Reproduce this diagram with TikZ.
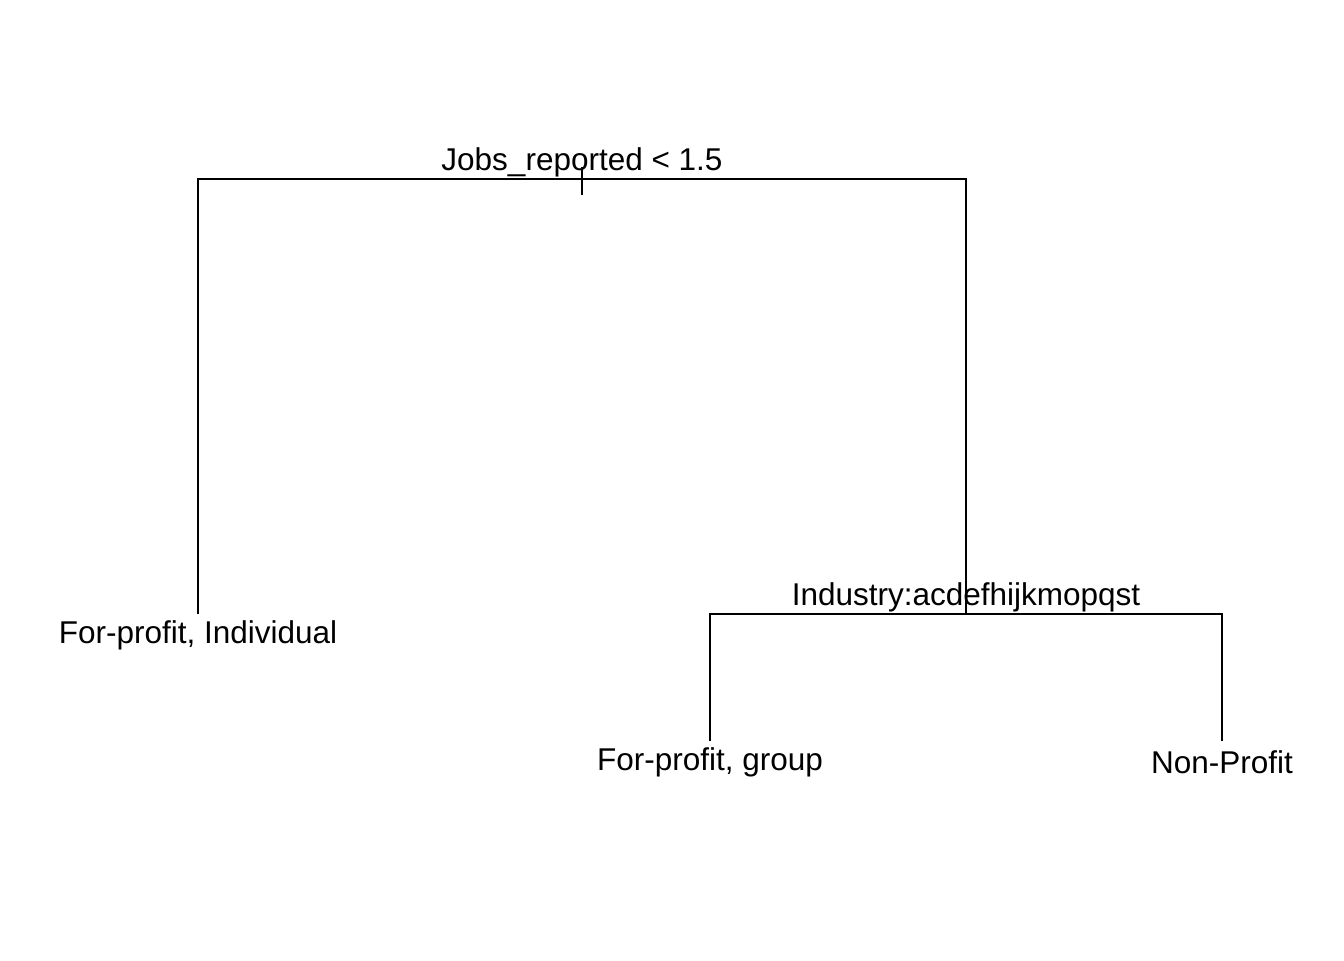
\documentclass[tikz,border=0pt]{standalone}
\usepackage{fontspec}
\setmainfont{Liberation Sans}

\begin{document}
\begin{tikzpicture}[x=0.5pt,y=-0.5pt,
  lbl/.style={anchor=base,inner sep=0pt,font=\fontsize{15.75pt}{18pt}\selectfont},
  edge/.style={line width=0.8pt}]
\useasboundingbox (0,0) rectangle (1344,960);
% split points and leaves
\coordinate (root) at (582,179);
\coordinate (ticktop) at (582,167);
\coordinate (tickbot) at (582,195);
\coordinate (indiv) at (198,614);
\coordinate (ind) at (966,614);
\coordinate (group) at (710,741);
\coordinate (nonprof) at (1222,741);
% labels
\node[lbl] (jobslbl) at (582,170) {Jobs\_reported < 1.5};
\node[lbl] (indlbl) at (966,605) {Industry:acdefhijkmopqst};
\node[lbl] (indivlbl) at (198,643) {For-profit, Individual};
\node[lbl] (grouplbl) at (710,770) {For-profit, group};
\node[lbl] (nonproflbl) at (1222,773) {Non-Profit};
% branches
\draw[edge] (indiv) |- (root) -| (ind);
\draw[edge] (ticktop) -- (tickbot);
\draw[edge] (group) |- (ind) -| (nonprof);
\end{tikzpicture}
\end{document}
